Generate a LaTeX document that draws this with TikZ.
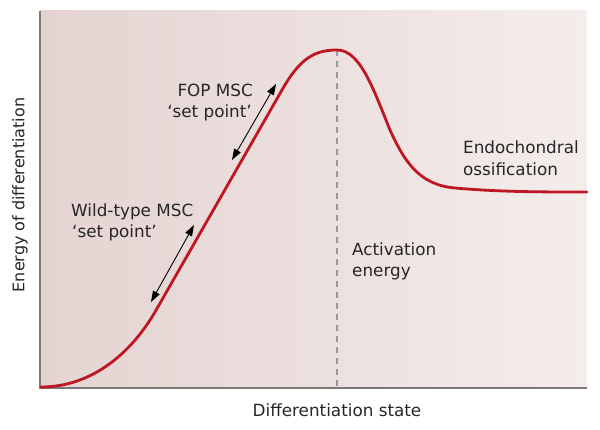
\documentclass[tikz,border=0pt]{standalone}
\usepackage{fontspec}
\setmainfont{DejaVu Sans}
\usetikzlibrary{arrows.meta}
\definecolor{bgL}{RGB}{228,211,209}
\definecolor{bgR}{RGB}{244,237,236}
\definecolor{curvered}{RGB}{190,22,34}
\definecolor{axisgray}{RGB}{125,120,120}
\definecolor{dashgray}{RGB}{150,150,165}
\tikzset{
  axisline/.style={draw=axisgray, line width=1.2pt},
  curveline/.style={draw=curvered, line width=2.8pt, line cap=round},
  activline/.style={draw=dashgray, line width=1.2pt, dash pattern=on 6pt off 5pt},
  setarrow/.style={draw=black, line width=0.9pt, {Triangle[length=11pt,width=7.5pt]}-{Triangle[length=11pt,width=7.5pt]}},
  lbl/.style={font=\fontsize{16.8}{20}\selectfont, text=black!85, inner sep=0pt},
}
\begin{document}
\begin{tikzpicture}[x=1pt,y=-1pt]
\useasboundingbox (0,0) rectangle (600,430);
% background
\shade[left color=bgL, right color=bgR] (40,11) rectangle (587,388);
% axes
\draw[axisline] (40,11) -- (40,388) -- (587,388);
% activation energy line
\coordinate (peaktop) at (337,50);
\coordinate (peakbase) at (337,388);
\draw[activline] (peaktop) -- (peakbase);
% energy curve
\draw[curveline] (41,387) .. controls (92,387) and (131,353) .. (155,312)
  -- (282,90) .. controls (300,58) and (315,50) .. (337,50)
  .. controls (360,50) and (373,88) .. (390,130)
  .. controls (405,163) and (420,185) .. (455,188)
  .. controls (500,192) and (540,192) .. (587,192);
% set point arrows
\coordinate (fopA) at (232,160);
\coordinate (fopB) at (276,84);
\coordinate (wtA) at (151,302);
\coordinate (wtB) at (194,225);
\draw[setarrow] (fopA) -- (fopB);
\draw[setarrow] (wtA) -- (wtB);
% labels
\node[lbl, anchor=base east] (fop1) at (253,97) {FOP MSC};
\node[lbl, anchor=base east] (fop2) at (252,118) {‘set point’};
\node[lbl, anchor=base west] (wt1) at (71,217) {Wild-type MSC};
\node[lbl, anchor=base west] (wt2) at (72,238) {‘set point’};
\node[lbl, anchor=base west] (act1) at (352,256) {Activation};
\node[lbl, anchor=base west] (act2) at (352,277) {energy};
\node[lbl, anchor=base west] (endo1) at (463,154) {Endochondral};
\node[lbl, anchor=base west] (endo2) at (463,176) {ossification};
\node[lbl, anchor=base] (xlab) at (337,417) {Differentiation state};
\node[lbl, font=\fontsize{16}{19}\selectfont, anchor=center, rotate=90] (ylab) at (20,195) {Energy of differentiation};
\end{tikzpicture}
\end{document}
